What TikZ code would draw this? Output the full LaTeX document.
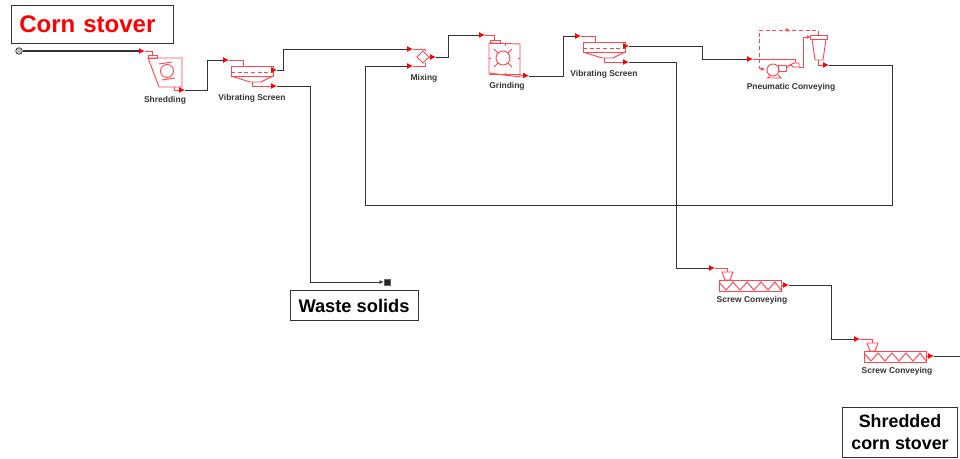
\documentclass[tikz,border=0pt]{standalone}
\usepackage{fontspec}
\setmainfont{Liberation Sans}
\usetikzlibrary{arrows.meta, positioning}
\definecolor{unitred}{RGB}{255,70,80}
\tikzset{
  unit/.style={
    draw=unitred,
    line width=0.7pt
  },
  stream/.style={
    draw=black!80,
    line width=0.65pt,
    line join=miter
  },
  portin/.style={
    stream,
    -{Latex[red,length=4.5pt,width=4.5pt]}
  },
  portout/.style={
    unit,
    -{Latex[red,length=4.5pt,width=4.5pt]}
  },
  unitlabel/.style={
    font=\bfseries\fontsize{6.35}{7}\selectfont,
    text=black!80,
    inner sep=0pt
  },
  tagbox/.style={
    draw=black!80,
    line width=0.7pt,
    fill=white,
    align=center,
    font=\bfseries\fontsize{13.7}{17}\selectfont,
    inner sep=0pt
  },
  % --- vibrating screen, origin at top left of the deck ---
  vibscreen/.pic={
    \coordinate (-in) at (-2,-6);
    \coordinate (-top) at (46,4);
    \coordinate (-waste) at (46,20);
    \coordinate (-base) at (21,16);
    \draw[unit] (-in) -- (12,-6) -- (12,0);
    \draw[unit] (0,0) rectangle (42,10);
    \draw[unit,densely dashed] (0,6) -- (42,6);
    \draw[unit] (0,10) -- (19,16) -- (30,16) -- (42,10);
    \draw[portout] (42,4) -- (-top);
    \draw[portout] (21,16) |- (-waste);
  },
  % --- screw conveyor, origin at top left of the trough ---
  screwconv/.pic={
    \coordinate (-in) at (-4,-12);
    \coordinate (-out) at (70,5);
    \coordinate (-base) at (33,11);
    \draw[unit] (-in) -- (8,-12) -- (8,-8);
    \draw[unit] (3,-8) -- (14,-8) -- (11,0) -- (6,0) -- cycle;
    \draw[unit] (0,0) rectangle (62,11);
    \draw[unit] (0,2) -- (7,10) -- (14,2) -- (21,10) -- (28,2) -- (35,10) -- (42,2) -- (49,10) -- (56,2) -- (62,10);
    \draw[portout] (62,5) -- (-out);
  }
}
\begin{document}
\begin{tikzpicture}[x=0.75pt,y=-0.75pt]
\useasboundingbox (0,0) rectangle (960,459);

% --- Feed and waste ends ---
\node[circle,draw=black!80,fill=black!25,line width=0.5pt,minimum size=5pt,inner sep=0pt] (feed) at (19,51) {};
\node[rectangle,draw=black!60,fill=black!85,line width=0.6pt,minimum size=4.5pt,inner sep=0pt] (wasteEnd) at (387,282) {};
\coordinate (productEnd) at (960,356);

% --- Shredding ---
\coordinate (shredIn) at (145,51);
\coordinate (shredOut) at (185,90);
\draw[unit] (shredIn) -- (152,51) -- (152,55);
\draw[unit] (148,55) rectangle (157,58);
\draw[unit] (148,58) -- (182,58) -- (182,87) -- (159,87) -- cycle;
\draw[unit] (167,71) circle (6.5);
\draw[unit] (159,64) -- (172,62);
\draw[unit] (162,80) -- (175,78);
\draw[portout] (174,87) |- (shredOut);
\node[unitlabel] (shredLabel) at (165,100) {Shredding};

% --- First screen ---
\pic (screenA) at (231,66) {vibscreen};
\node[unitlabel,below=9pt of screenA-base] (screenALabel) {Vibrating Screen};

% --- Mixing ---
\coordinate (mixInA) at (413,49);
\coordinate (mixInB) at (413,66);
\coordinate (mixOut) at (436,57);
\draw[unit] (mixInA) -- (425,49) -- (425,51);
\draw[unit] (mixInB) -- (425,66) -- (425,63);
\draw[unit] (423,51) -- (429,57) -- (423,63) -- (417,57) -- cycle;
\draw[portout] (429,57) -- (mixOut);
\node[unitlabel] (mixLabel) at (424,78.5) {Mixing};

% --- Grinding ---
\coordinate (grindIn) at (485,35);
\coordinate (grindOut) at (529,76);
\draw[unit] (grindIn) -- (494,35) -- (494,40);
\draw[unit] (490,40) rectangle (500,43);
\draw[unit] (489,43) -- (520,44) -- (520,77) -- (489,73) -- cycle;
\draw[unit] (489,74) -- (520,74);
\draw[unit] (503,58) circle (7);
\foreach \dx/\dy in {1/1,1/-1,-1/1,-1/-1}
  \draw[unit] (503+5*\dx,58+5*\dy) -- (503+9*\dx,58+9*\dy);
\draw[unit] (489,58) -- (491,58) (520,58) -- (518,58) (505,44) -- (505,46) (505,73) -- (505,75);
\draw[portout] (520,75) -- (grindOut);
\node[unitlabel] (grindLabel) at (507,86) {Grinding};

% --- Second screen ---
\pic (screenB) at (583,42) {vibscreen};
\node[unitlabel,below=9pt of screenB-base] (screenBLabel) {Vibrating Screen};

% --- Pneumatic conveying ---
\coordinate (pneuIn) at (753,59);
\coordinate (pneuOut) at (829,65);
\draw[unit] (pneuIn) -- (795,59) -- (795,63);
\draw[unit] (790,65) -- (794,63) -- (799,63) -- (799,67) -- (794,67) -- cycle;
\draw[unit] (773,70) circle (6);
\draw[unit] (768,78) -- (771,75) (778,75) -- (781,78) (766,78) -- (782,78);
\draw[unit] (778,65) rectangle (786,71);
\draw[unit] (786,68) -- (790,65);
\draw[unit,-{Latex[length=3pt,width=3pt]}] (799,67) -- (803,67) -- (803,37) -- (811,37);
\draw[unit] (810,35) rectangle (827,39);
\draw[unit] (812,39) -- (815,60) -- (823,60) -- (826,39);
\draw[portout] (818,60) |- (pneuOut);
\draw[unit,densely dashed] (818,35) -- (818,30) -- (759,30) -- (759,68);
\draw[unit,densely dashed,-{Latex[length=3pt,width=3pt]}] (759,68) -- (765,70);
\draw[unit,-{Latex[length=3pt,width=3pt]}] (790,30) -- (784,30);
\node[unitlabel] (pneuLabel) at (791,87) {Pneumatic Conveying};

% --- Screw conveyors ---
\pic (screwA) at (719,280) {screwconv};
\pic (screwB) at (864,351) {screwconv};
\node[unitlabel,below=3.5pt of screwA-base] (screwALabel) {Screw Conveying};
\node[unitlabel,below=3.5pt of screwB-base] (screwBLabel) {Screw Conveying};

% --- Streams ---
\coordinate (recycleA) at (892,205);
\coordinate (recycleB) at (365,205);
\draw[portin,line width=1pt] (feed) -- (shredIn);
\draw[portin] (shredOut) -- ++(22,0) |- (screenA-in);
\draw[portin] (screenA-top) -- ++(6,0) |- (mixInA);
\draw[stream,-{Latex[length=3pt,width=3pt]}] (screenA-waste) -- ++(33,0) |- (wasteEnd);
\draw[portin] (mixOut) -- ++(12,0) |- (grindIn);
\draw[portin] (grindOut) -- ++(34,0) |- (screenB-in);
\draw[portin] (screenB-top) -- ++(73,0) |- (pneuIn);
\draw[portin] (pneuOut) -| (recycleA) -- (recycleB) |- (mixInB);
\draw[portin] (screenB-waste) -- ++(47,0) |- (screwA-in);
\draw[portin] (screwA-out) -- ++(42,0) |- (screwB-in);
\draw[stream] (screwB-out) -- (productEnd);

% --- Tags ---
\node[tagbox,minimum width=121.5pt,minimum height=28.5pt,font=\bfseries\fontsize{18}{20}\selectfont,text=red,text width=109pt,align=left] (cornTag) at (92,24) {Corn stover};
\node[tagbox,minimum width=96pt,minimum height=22pt] (wasteTag) at (354,305.5) {Waste solids};
\node[tagbox,minimum width=86pt,minimum height=37.5pt,font=\bfseries\fontsize{13.4}{17}\selectfont] (productTag) at (900,432) {Shredded\\corn stover};

\end{tikzpicture}
\end{document}
